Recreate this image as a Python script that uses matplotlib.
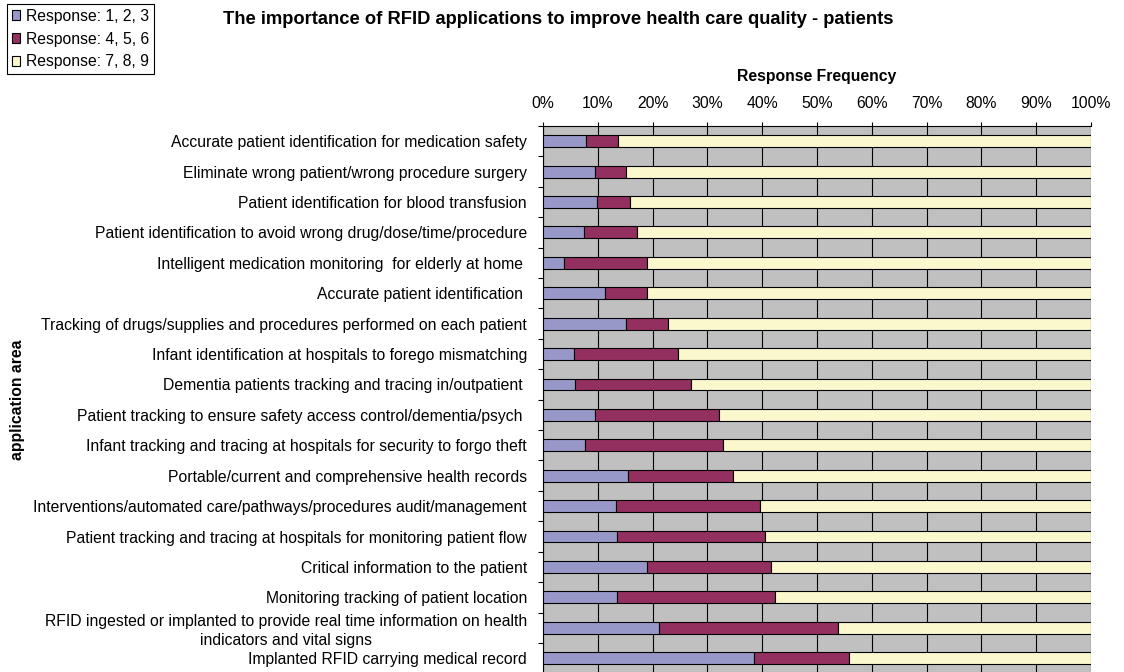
import matplotlib
matplotlib.use("Agg")
import matplotlib.pyplot as plt
from matplotlib.patches import Patch
import numpy as np

plt.rcParams['font.family'] = ['Liberation Sans', 'DejaVu Sans']

categories = [
    "Accurate patient identification for medication safety",
    "Eliminate wrong patient/wrong procedure surgery",
    "Patient identification for blood transfusion",
    "Patient identification to avoid wrong drug/dose/time/procedure",
    "Intelligent medication monitoring  for elderly at home ",
    "Accurate patient identification ",
    "Tracking of drugs/supplies and procedures performed on each patient",
    "Infant identification at hospitals to forego mismatching",
    "Dementia patients tracking and tracing in/outpatient ",
    "Patient tracking to ensure safety access control/dementia/psych ",
    "Infant tracking and tracing at hospitals for security to forgo theft",
    "Portable/current and comprehensive health records",
    "Interventions/automated care/pathways/procedures audit/management",
    "Patient tracking and tracing at hospitals for monitoring patient flow",
    "Critical information to the patient",
    "Monitoring tracking of patient location",
    "RFID ingested or implanted to provide real time information on health\nindicators and vital signs",
    "Implanted RFID carrying medical record",
]
series_names = ["Response: 1, 2, 3", "Response: 4, 5, 6", "Response: 7, 8, 9"]
resp_123 = [7.8, 9.4, 9.8, 7.5, 3.8, 11.3, 15.1, 5.7, 5.8, 9.4, 7.7, 15.5, 13.3, 13.5, 18.9, 13.5, 21.2, 38.5]
resp_456 = [5.9, 5.7, 6.0, 9.6, 15.1, 7.6, 7.7, 18.9, 21.2, 22.7, 25.1, 19.1, 26.3, 27.0, 22.7, 28.8, 32.7, 17.3]
resp_789 = [86.3, 84.9, 84.2, 82.9, 81.1, 81.1, 77.2, 75.4, 73.0, 67.9, 67.2, 65.4, 60.4, 59.5, 58.4, 57.7, 46.1, 44.2]
xticks = [0, 10, 20, 30, 40, 50, 60, 70, 80, 90, 100]
xtick_labels = [f"{v}%" for v in xticks]

colors = ['#9898C8', '#933060', '#FBF8CE']
FS = 11.3
W, H = 1124, 672
fig = plt.figure(figsize=(W / 100, H / 100), dpi=100)
ax = fig.add_axes([543 / W, -0.002, 548 / W, (H - 126) / H + 0.002])
ax.set_facecolor('#C0C0C0')

y = np.arange(len(categories))
left = np.zeros(len(categories))
bh = 0.39
for vals, c in zip([resp_123, resp_456, resp_789], colors):
    vals = np.array(vals)
    ax.barh(y, vals, left=left, height=bh, color=c, edgecolor='black', linewidth=0.8, zorder=3)
    left = left + vals

ax.set_xlim(0, 100)
ax.set_ylim(len(categories) - 0.5, -0.5)

ax.xaxis.tick_top()
ax.set_xticks(xticks)
ax.set_xticklabels(xtick_labels)
ax.tick_params(axis='x', direction='out', length=3, width=0.8, color='black', pad=8, labelsize=FS)
ax.grid(axis='x', color='black', linewidth=0.8, zorder=1)
ax.set_axisbelow(True)

ax.set_yticks(y)
ax.set_yticklabels(categories)
ax.tick_params(axis='y', which='major', length=0, pad=11.5, labelsize=FS)
ax.set_yticks(np.arange(-0.5, len(categories), 1.0), minor=True)
ax.tick_params(axis='y', which='minor', direction='out', length=3.5, width=0.8, color='black')
for lab in ax.get_yticklabels():
    lab.set_multialignment('center')
    if '\n' in lab.get_text():
        lab.set_linespacing(1.35)

for s in ['right', 'bottom']:
    ax.spines[s].set_visible(False)
for s in ['top', 'left']:
    ax.spines[s].set_color('black')
    ax.spines[s].set_linewidth(0.8)

fig.text(558.5 / W, 1 - 19 / H, "The importance of RFID applications to improve health care quality - patients",
         ha='center', va='center', fontsize=13.2, fontweight='bold')
fig.text(817 / W, 1 - 77 / H, "Response Frequency", ha='center', va='center', fontsize=FS, fontweight='bold')
fig.text(18 / W, 1 - 400 / H, "application area", ha='center', va='center', rotation=90, fontsize=FS, fontweight='bold')

handles = [Patch(facecolor=c, edgecolor='black', linewidth=0.8) for c in colors]
leg = fig.legend(handles, series_names, loc='upper left', bbox_to_anchor=(7 / W, 1 - 4 / H),
                 borderaxespad=0, fancybox=False, framealpha=1, edgecolor='black', fontsize=FS,
                 handlelength=0.55, handleheight=0.55, handletextpad=0.35, labelspacing=0.5,
                 borderpad=0.3)
leg.get_frame().set_linewidth(0.8)

fig.savefig("out.png", dpi=100)
